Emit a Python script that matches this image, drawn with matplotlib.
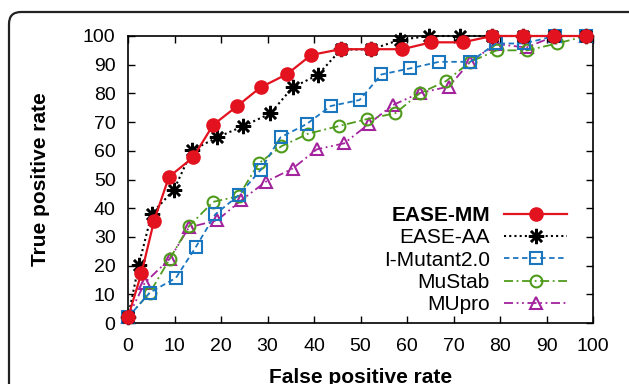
import numpy as np
import matplotlib
matplotlib.use('Agg')
import matplotlib.pyplot as plt
from matplotlib.patches import FancyBboxPatch

plt.rcParams['font.family'] = ['Liberation Sans', 'DejaVu Sans']

# ROC points (false positive rate, true positive rate)
mm_fpr = [0, 2.9, 5.6, 8.8, 14.0, 18.3, 23.5, 28.5, 34.2, 39.4, 45.7, 52.3, 59.0, 65.2, 72.0, 78.3, 84.9, 91.7, 98.5]
mm_tpr = [2, 17.4, 35.6, 50.9, 57.7, 69.0, 75.6, 82.1, 86.7, 93.4, 95.4, 95.4, 95.4, 97.8, 97.8, 100, 100, 100, 100]

aa_fpr = [0, 2.3, 5.1, 9.9, 13.8, 19.2, 24.8, 30.6, 35.4, 40.8, 45.8, 52.3, 58.5, 64.8, 71.5, 78.3, 84.9, 91.7, 98.5]
aa_tpr = [2, 20.1, 38.1, 46.5, 60.2, 64.7, 68.6, 73.0, 82.1, 86.4, 95.3, 95.3, 98.7, 100, 100, 100, 100, 100, 100]

im_fpr = [0, 4.7, 10.3, 14.6, 18.8, 23.8, 28.5, 32.8, 38.4, 43.6, 49.8, 54.5, 60.6, 66.9, 73.6, 79.1, 85.2, 91.8, 98.5]
im_tpr = [2, 10.6, 15.7, 26.5, 37.9, 44.5, 53.3, 64.7, 69.3, 75.6, 77.7, 86.6, 88.7, 91.0, 91.0, 97.4, 97.4, 100, 100]

ms_fpr = [0, 4.7, 9.0, 13.1, 18.3, 23.8, 28.1, 33.0, 38.8, 45.3, 51.3, 57.5, 62.7, 68.4, 73.6, 79.3, 85.9, 92.3, 98.5]
ms_tpr = [2, 10.6, 22.4, 33.7, 42.2, 44.2, 55.6, 61.6, 66.0, 68.6, 71.0, 73.1, 80.0, 84.3, 91.0, 95.0, 95.0, 97.4, 100]

mu_fpr = [0, 3.6, 9.0, 13.1, 19.2, 24.4, 29.6, 35.4, 40.6, 46.5, 51.9, 56.9, 62.7, 69.0, 73.6, 79.1, 85.7, 91.8, 98.5]
mu_tpr = [2, 14.0, 22.4, 33.3, 35.8, 42.8, 49.2, 53.8, 60.5, 62.6, 69.5, 75.9, 80.1, 82.4, 91.0, 97.2, 96.0, 100, 100]

fig = plt.figure(figsize=(6.29, 3.84), dpi=100)
ax = fig.add_axes([128/629, 1-323/384, 465/629, 287/384])

# rounded frame around the panel
border = FancyBboxPatch((0.09, -0.3), 6.45, 4.02, boxstyle='round,pad=0,rounding_size=0.12',
                        transform=fig.dpi_scale_trans, fill=False, lw=1.6, ec='#222222', clip_on=False)
fig.patches.append(border)

ax.plot(mu_fpr, mu_tpr, color='#a3229d', ls=(0, (5, 2, 1, 2, 1, 2)), lw=1.3, marker='^', ms=8,
        mfc='none', mew=1.5, label='MUpro', clip_on=False, zorder=2)
ax.plot(ms_fpr, ms_tpr, color='#4f9b1b', ls=(0, (5, 2, 1, 2)), lw=1.3, marker='o', ms=8.5,
        mfc='none', mew=1.5, label='MuStab', clip_on=False, zorder=3)
ax.plot(im_fpr, im_tpr, color='#1b76c0', ls=(0, (3, 2)), lw=1.3, marker='s', ms=8.5,
        mfc='none', mew=1.5, label='I-Mutant2.0', clip_on=False, zorder=4)
ax.plot(aa_fpr, aa_tpr, color='black', ls=(0, (1, 1.5)), lw=1.5, marker=(8, 2, 0), ms=11,
        mew=1.8, label='EASE-AA', clip_on=False, zorder=5)
ax.plot(mm_fpr, mm_tpr, color='#e3121f', ls='-', lw=1.6, marker='o', ms=9.5,
        label='EASE-MM', clip_on=False, zorder=6)

ax.set_xlim(0, 100)
ax.set_ylim(0, 100)
ax.set_xticks(np.arange(0, 101, 10))
ax.set_yticks(np.arange(0, 101, 10))
ax.tick_params(direction='in', top=True, right=True, length=5, width=1, labelsize=14)
ax.tick_params(axis='x', pad=11)
ax.tick_params(axis='y', pad=9)
for s in ax.spines.values():
    s.set_linewidth(1.2)

ax.set_xlabel('False positive rate', fontsize=15, fontweight='bold')
ax.set_ylabel('True positive rate', fontsize=15, fontweight='bold')
ax.xaxis.set_label_coords(0.5, -0.157)
ax.yaxis.set_label_coords(-0.167, 0.5)

h, l = ax.get_legend_handles_labels()
leg = ax.legend(h[::-1], l[::-1], loc='lower right', bbox_to_anchor=(0.944, 0.03), frameon=False,
                markerfirst=False, fontsize=15, handlelength=3.0, handletextpad=0.7,
                labelspacing=0.16, borderpad=0, borderaxespad=0)
leg.get_texts()[0].set_fontweight('bold')

fig.savefig('out.png', dpi=100)
